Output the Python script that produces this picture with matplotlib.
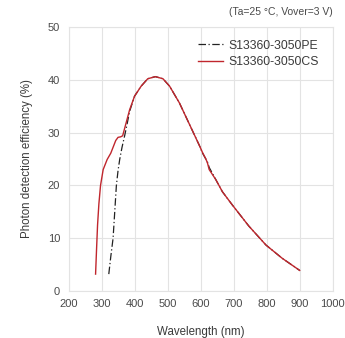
import matplotlib
matplotlib.use("Agg")
import matplotlib.pyplot as plt
import numpy as np

plt.rcParams['font.family'] = ['Liberation Sans', 'DejaVu Sans']

# Data
pe_wl = [322, 328, 335, 340, 345, 350, 355, 362, 370, 378, 385, 400, 420, 440, 463, 486, 506, 536, 566, 596, 606, 621, 626, 646, 666, 696, 746, 798, 847, 900]
pe_pde = [3.2, 6.5, 10.0, 15.0, 20.0, 22.8, 24.9, 27.2, 29.4, 31.8, 34.0, 36.9, 38.8, 40.2, 40.6, 40.2, 38.8, 35.6, 31.6, 27.6, 26.1, 24.4, 23.4, 21.1, 18.8, 16.3, 12.3, 8.7, 6.2, 3.9]

cs_wl = [282, 285, 288, 292, 297, 305, 317, 328, 343, 350, 358, 364, 370, 385, 400, 420, 440, 463, 486, 506, 536, 566, 596, 606, 616, 621, 626, 646, 666, 696, 746, 798, 847, 900]
cs_pde = [3.2, 8.0, 12.5, 16.5, 20.0, 23.0, 24.9, 26.1, 28.5, 29.1, 29.2, 29.4, 30.8, 34.3, 36.9, 38.8, 40.2, 40.6, 40.2, 38.8, 35.6, 31.6, 27.6, 26.2, 25.0, 24.2, 23.0, 21.1, 18.8, 16.3, 12.3, 8.7, 6.2, 3.9]

labels = ["S13360-3050PE", "S13360-3050CS"]
xticks = [200, 300, 400, 500, 600, 700, 800, 900, 1000]
yticks = [0, 10, 20, 30, 40, 50]

W, H = 345, 338
fig = plt.figure(figsize=(W / 100, H / 100), dpi=100)
ax = fig.add_axes([68.5 / W, 1 - 291 / H, (332.7 - 68.5) / W, (291 - 27) / H])

grid_c = "#e3e3e3"
ax.plot(pe_wl, pe_pde, color="#222222", lw=0.9, dashes=(6, 2, 1, 2), label=labels[0])
ax.plot(cs_wl, cs_pde, color="#c0262d", lw=1.0, label=labels[1])

ax.set_xlim(200, 1000)
ax.set_ylim(0, 50)
ax.set_xticks(xticks)
ax.set_yticks(yticks)
ax.grid(True, color=grid_c, lw=0.8)
ax.set_axisbelow(True)
for s in ax.spines.values():
    s.set_color(grid_c)
    s.set_linewidth(0.8)
ax.tick_params(length=0, labelsize=8, colors="#4a4a4a", pad=6)

ax.set_xlabel("Wavelength (nm)", fontsize=8.3, color="#3a3a3a", labelpad=12)
ax.set_ylabel("Photon detection efficiency (%)", fontsize=8.3, color="#3a3a3a", labelpad=11)

fig.text(333 / W, 1 - 12 / H, "(Ta=25 °C, Vover=3 V)", fontsize=7.5, color="#4a4a4a",
         ha="right", va="center")

leg = ax.legend(loc="upper right", bbox_to_anchor=(0.982, 0.985), frameon=False,
                fontsize=8.8, handlelength=2.0, handletextpad=0.5, labelspacing=0.35,
                borderaxespad=0.3)
for t in leg.get_texts():
    t.set_color("#3a3a3a")

fig.savefig("out.png", dpi=100)
